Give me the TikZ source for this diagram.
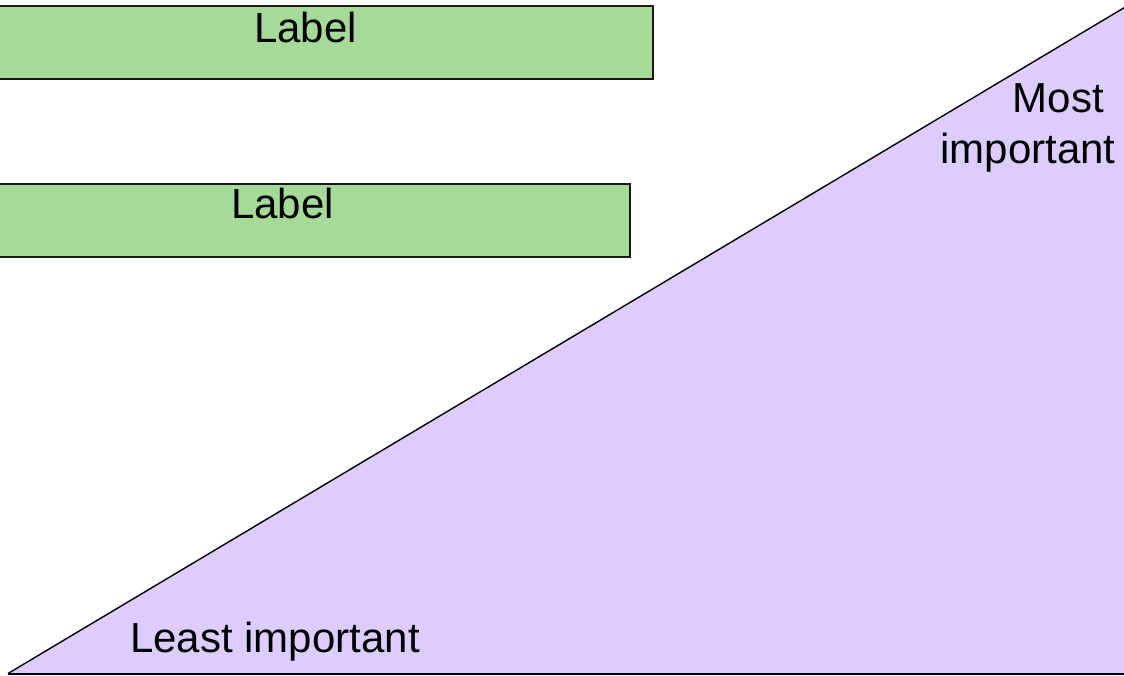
\documentclass[tikz,border=0pt]{standalone}
\usepackage{fontspec}
\setmainfont{Liberation Sans}
\definecolor{boxgreen}{RGB}{165,218,153}
\definecolor{wedgepurple}{RGB}{221,205,254}
\tikzset{greenbox/.style={rectangle,draw=black!90,line width=1pt,fill=boxgreen,inner sep=0pt}}
\tikzset{bigtext/.style={inner sep=0pt,font=\fontsize{21}{25.5}\selectfont}}

\begin{document}
\begin{tikzpicture}[x=0.5pt,y=-0.5pt]
        \useasboundingbox (0,0) rectangle (1124,675);
        \begin{scope}
        \clip (0,0) rectangle (1124,675);
        % importance wedge
        \coordinate (low) at (8,673.5);
        \coordinate (apex) at (1127,6);
        \coordinate (corner) at (1127,673.5);
        \fill[wedgepurple] (low) -- (apex) -- (corner) -- cycle;
        \draw[line width=0.7pt] (low) -- (apex);
        \draw[line width=1pt] (low) -- (corner);
        % label bars
        \node[greenbox,minimum width=347.5pt,minimum height=36.5pt] (bar1) at (305.5,42) {};
        \node[greenbox,minimum width=347.5pt,minimum height=36.5pt] (bar2) at (282.5,220.5) {};
        \end{scope}
        \node[bigtext,anchor=base] (bar1text) at (305.5,42) {Label};
        \node[bigtext,anchor=base] (bar2text) at (282.5,218) {Label};
        \node[bigtext,anchor=base] (least) at (275,652) {Least important};
        \node[bigtext,anchor=base east,align=right] (most) at (1116,163) {Most\rule{0.278em}{0pt}\\important};
\end{tikzpicture}
\end{document}
